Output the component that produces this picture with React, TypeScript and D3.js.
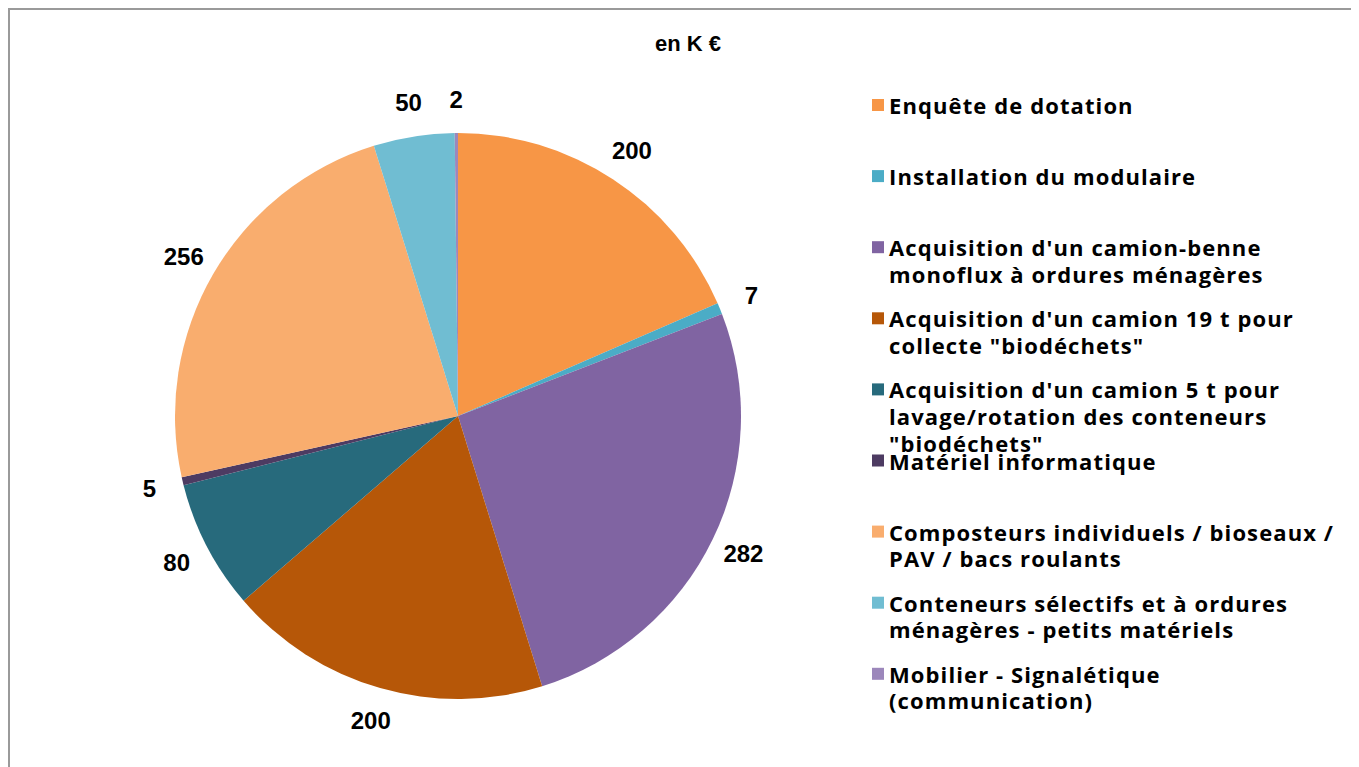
import React from "react";
import * as d3 from "d3";

const categories = [
  "Enquête de dotation",
  "Installation du modulaire",
  "Acquisition d'un camion-benne\nmonoflux à ordures ménagères",
  "Acquisition d'un camion 19 t pour\ncollecte \"biodéchets\"",
  "Acquisition d'un camion 5 t pour\nlavage/rotation des conteneurs\n\"biodéchets\"",
  "Matériel informatique",
  "Composteurs individuels / bioseaux /\nPAV / bacs roulants",
  "Conteneurs sélectifs et à ordures\nménagères - petits matériels",
  "Mobilier - Signalétique\n(communication)",
];
const values = [200, 7, 282, 200, 80, 5, 256, 50, 2];
const colors = [
  "#F79646",
  "#4BACC6",
  "#8064A2",
  "#B65708",
  "#276A7C",
  "#4D3B62",
  "#F9AD6E",
  "#70BDD2",
  "#9C87BB",
];
const title = "en K €";

const W = 1351;
const H = 759;
const cx = 450;
const cy = 408;
const R = 283;

export default function App() {
  const pie = d3.pie<number>().sort(null).value((d) => d);
  const arcs = pie(values);
  const arcGen = d3.arc<d3.PieArcDatum<number>>().innerRadius(0).outerRadius(R);
  const labelR = R + 34;

  const legendX = 864;
  const legendY0 = 97;
  const legendStep = 71.1;
  const lineH = 26.6;

  return (
    <svg width={W} height={H} style={{ display: "block" }}>
      <rect x={0} y={0} width={W} height={H} fill="#fff" />
      <rect x={1} y={1} width={W + 20} height={H + 20} fill="none" stroke="#9a9a9a" strokeWidth={2} />
      <text
        x={680}
        y={35}
        textAnchor="middle"
        dominantBaseline="central"
        fontFamily="'Liberation Sans', Arial, sans-serif"
        fontWeight="bold"
        fontSize={22}
        fill="#000"
      >
        {title}
      </text>
      <g transform={`translate(${cx},${cy})`}>
        {arcs.map((a, i) => (
          <path key={i} d={arcGen(a) || ""} fill={colors[i]} />
        ))}
        {arcs.map((a, i) => {
          const m = (a.startAngle + a.endAngle) / 2;
          const x = Math.sin(m) * labelR;
          const y = -Math.cos(m) * labelR;
          return (
            <text
              key={"l" + i}
              x={x}
              y={y}
              textAnchor="middle"
              dominantBaseline="central"
              fontFamily="'Liberation Sans', Arial, sans-serif"
              fontWeight="bold"
              fontSize={24}
              fill="#000"
            >
              {values[i]}
            </text>
          );
        })}
      </g>
      <g>
        {categories.map((c, i) => {
          const y0 = legendY0 + i * legendStep;
          const lines = c.split("\n");
          return (
            <g key={"g" + i}>
              <rect x={legendX} y={y0 - 6} width={12} height={12} fill={colors[i]} />
              {lines.map((ln, j) => (
                <text
                  key={j}
                  x={legendX + 17}
                  y={y0 + j * lineH}
                  dominantBaseline="central"
                  fontFamily="'Open Sans', sans-serif"
                  fontWeight="bold"
                  fontSize={22}
                  letterSpacing={1.1}
                  fill="#000"
                >
                  {ln}
                </text>
              ))}
            </g>
          );
        })}
      </g>
    </svg>
  );
}
